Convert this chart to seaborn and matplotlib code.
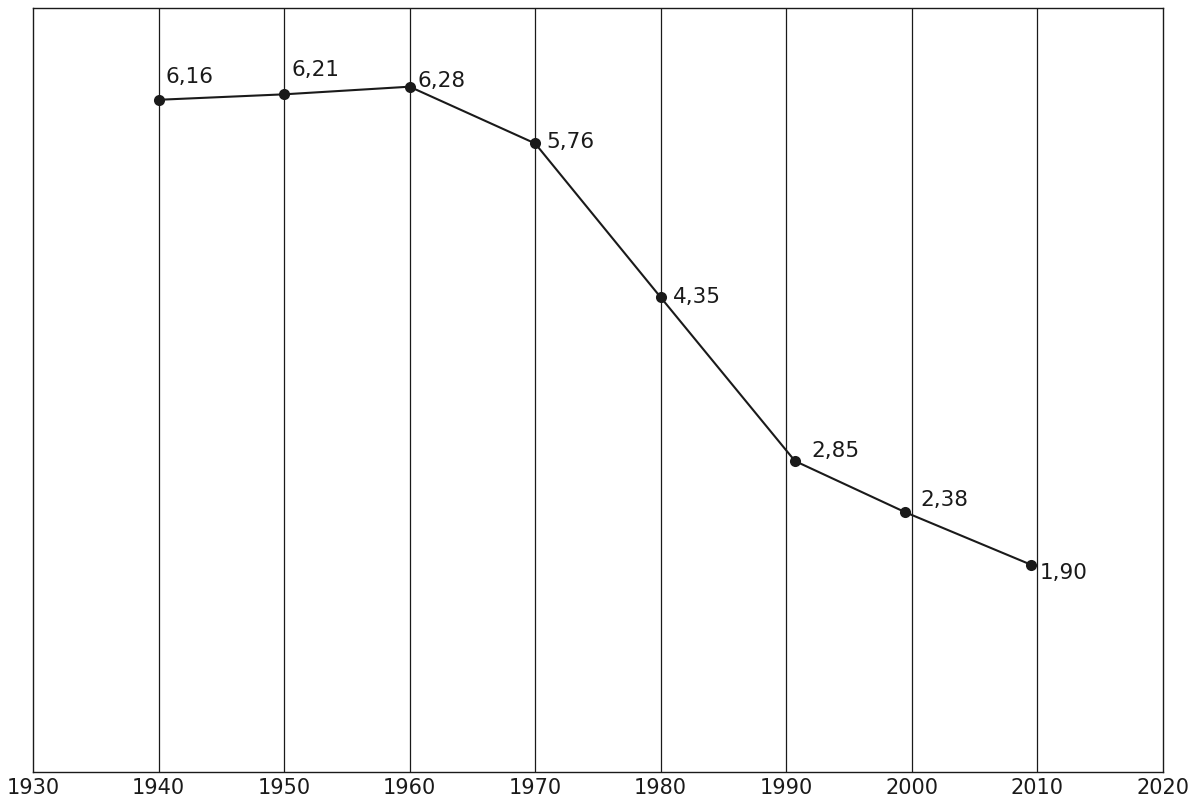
import matplotlib
matplotlib.use("Agg")
import matplotlib.pyplot as plt
import seaborn as sns
import pandas as pd

years = [1940, 1950, 1960, 1970, 1980, 1990.7, 1999.5, 2009.5]
values = [6.16, 6.21, 6.28, 5.76, 4.35, 2.85, 2.38, 1.90]
labels = ["6,16", "6,21", "6,28", "5,76", "4,35", "2,85", "2,38", "1,90"]
xticks = list(range(1930, 2021, 10))
offsets = [(5, 9), (5, 10), (6, -3), (8, -6), (9, -7), (12, 0), (11, 2), (6, -13)]

sns.set_style("white")
plt.rcParams['font.family'] = ['DejaVu Sans']
fig = plt.figure(figsize=(12, 8.11), dpi=100)
ax = fig.add_axes([0.0275, 0.048, 0.9415, 0.942])
df = pd.DataFrame({"year": years, "value": values})
sns.lineplot(data=df, x="year", y="value", ax=ax, color="#1a1a1a", lw=1.5,
             marker="o", markersize=8, markeredgewidth=0)
for x, y, t, (dx, dy) in zip(years, values, labels, offsets):
    ax.annotate(t, (x, y), xytext=(dx, dy), textcoords="offset points",
                fontsize=15.5, color="#1a1a1a", ha="left", va="bottom")
ax.set_xlim(1930, 2020)
ax.set_ylim(0, 7)
ax.set_xticks(xticks)
ax.set_yticks([])
ax.set_xlabel("")
ax.set_ylabel("")
ax.tick_params(axis="x", labelsize=15, length=0, pad=4, colors="#1a1a1a")
for x in xticks[1:-1]:
    ax.axvline(x, color="#1a1a1a", lw=0.9, zorder=0)
for s in ax.spines.values():
    s.set_color("#1a1a1a")
    s.set_linewidth(1)
fig.savefig("out.png", dpi=100)
